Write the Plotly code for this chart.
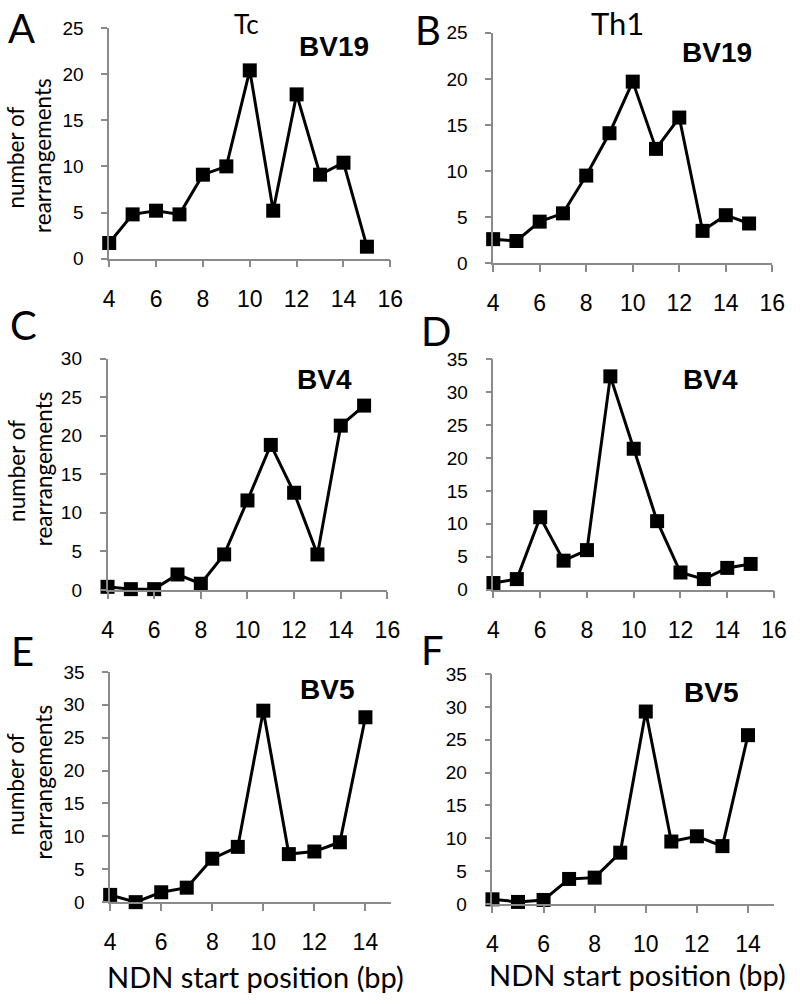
import plotly.graph_objects as go
from plotly.subplots import make_subplots

# ---- data ----
x_15 = [4, 5, 6, 7, 8, 9, 10, 11, 12, 13, 14, 15]
x_14 = [4, 5, 6, 7, 8, 9, 10, 11, 12, 13, 14]
tc_bv19 = [1.7, 4.8, 5.2, 4.8, 9.1, 10.0, 20.4, 5.2, 17.8, 9.1, 10.4, 1.3]
th1_bv19 = [2.6, 2.4, 4.5, 5.4, 9.5, 14.1, 19.7, 12.4, 15.8, 3.5, 5.2, 4.3]
tc_bv4 = [0.4, 0.1, 0.1, 2.0, 0.8, 4.6, 11.6, 18.8, 12.6, 4.6, 21.3, 23.9]
th1_bv4 = [1.0, 1.6, 11.0, 4.4, 6.0, 32.4, 21.4, 10.4, 2.6, 1.6, 3.3, 3.9]
tc_bv5 = [1.1, 0.0, 1.5, 2.2, 6.6, 8.4, 29.1, 7.3, 7.7, 9.1, 28.1]
th1_bv5 = [0.7, 0.3, 0.6, 3.8, 4.0, 7.8, 29.3, 9.5, 10.3, 8.8, 25.7]

panel_letters = ["A", "B", "C", "D", "E", "F"]
column_titles = ["Tc", "Th1"]
gene_labels = ["BV19", "BV19", "BV4", "BV4", "BV5", "BV5"]
y_title_lines = ["number of", "rearrangements"]
x_title = "NDN start position (bp)"

W, H = 800, 1004

panels = [
    # x data, y data, pixel box (left, right, top, bottom), x range, y range
    (x_15, tc_bv19, (105.7, 393.7, 18.3, 254.0), [4, 16], [0, 25]),
    (x_15, th1_bv19, (499.0, 785.0, 23.3, 258.5), [4, 16], [0, 25]),
    (x_15, tc_bv4, (104.0, 390.7, 356.0, 592.3), [4, 16], [0, 30]),
    (x_15, th1_bv4, (499.3, 786.7, 356.7, 592.0), [4, 16], [0, 35]),
    (x_14, tc_bv5, (106.7, 394.3, 676.0, 911.2), [4, 15], [0, 35]),
    (x_14, th1_bv5, (498.3, 786.2, 678.3, 913.0), [4, 15], [0, 35]),
]

fig = make_subplots(rows=3, cols=2)

axis_color = "#8a8a8a"
tick_font = "Liberation Sans, Arial, sans-serif"
cal_font = "Lato, Carlito, Calibri, sans-serif"

for i, (xs, ys, box, xr, yr) in enumerate(panels):
    row, col = i // 2 + 1, i % 2 + 1
    fig.add_trace(
        go.Scatter(
            x=xs, y=ys, mode="lines+markers",
            line=dict(color="black", width=3),
            marker=dict(symbol="square", size=14, color="black"),
            cliponaxis=False, showlegend=False, hoverinfo="skip",
        ),
        row=row, col=col,
    )
    l, r, t, b = box
    fig.update_xaxes(
        domain=[l / W, r / W], range=xr, tick0=4, dtick=2,
        showgrid=False, zeroline=False,
        showline=True, linecolor=axis_color, linewidth=1.5,
        ticks="outside", ticklen=7, tickwidth=1.5, tickcolor=axis_color,
        tickfont=dict(family=tick_font, size=23, color="black"),
        ticklabelstandoff=12,
        row=row, col=col,
    )
    fig.update_yaxes(
        domain=[(H - b) / H, (H - t) / H], range=yr, tick0=0, dtick=5,
        showgrid=False, zeroline=False,
        showline=True, linecolor=axis_color, linewidth=1.5,
        ticks="outside", ticklen=6, tickwidth=1.5, tickcolor=axis_color,
        tickfont=dict(family=tick_font, size=19, color="black"),
        ticklabelstandoff=14,
        row=row, col=col,
    )

annotations = []

def ann(text, px, py, size, family, bold=False, angle=0):
    annotations.append(dict(
        text=("<b>%s</b>" % text) if bold else text,
        x=px / W, y=(H - py) / H, xref="paper", yref="paper",
        xanchor="center", yanchor="middle", showarrow=False,
        textangle=angle,
        font=dict(size=size, family=family, color="black"),
    ))

letter_pos = [(16, 18), (432, 20), (18, 322), (440, 328), (17, 655), (437, 654)]
for letter, (px, py) in zip(panel_letters, letter_pos):
    ann(letter, px, py, 40, cal_font)

ann(column_titles[0], 246, 14, 26, cal_font)
ann(column_titles[1], 626, 13, 31, cal_font)

gene_pos = [(336, 37), (728, 43), (326, 377), (722, 377), (329, 694), (722, 697)]
for g, (px, py) in zip(gene_labels, gene_pos):
    ann(g, px, py, 28, tick_font, bold=True)

for yc in [151, 471, 791]:
    ann(y_title_lines[0], 10, yc, 22.5, cal_font, angle=-90)
    ann(y_title_lines[1], 38, yc - 2, 22.5, cal_font, angle=-90)

ann(x_title, 256, 987, 29, cal_font)
ann(x_title, 647, 985, 29, cal_font)

fig.update_layout(
    width=W, height=H, margin=dict(l=0, r=0, t=0, b=0),
    paper_bgcolor="white", plot_bgcolor="white",
    annotations=annotations,
)

fig.write_html("out.html", config={"displayModeBar": False},
               post_script="document.body.style.margin='0';")
